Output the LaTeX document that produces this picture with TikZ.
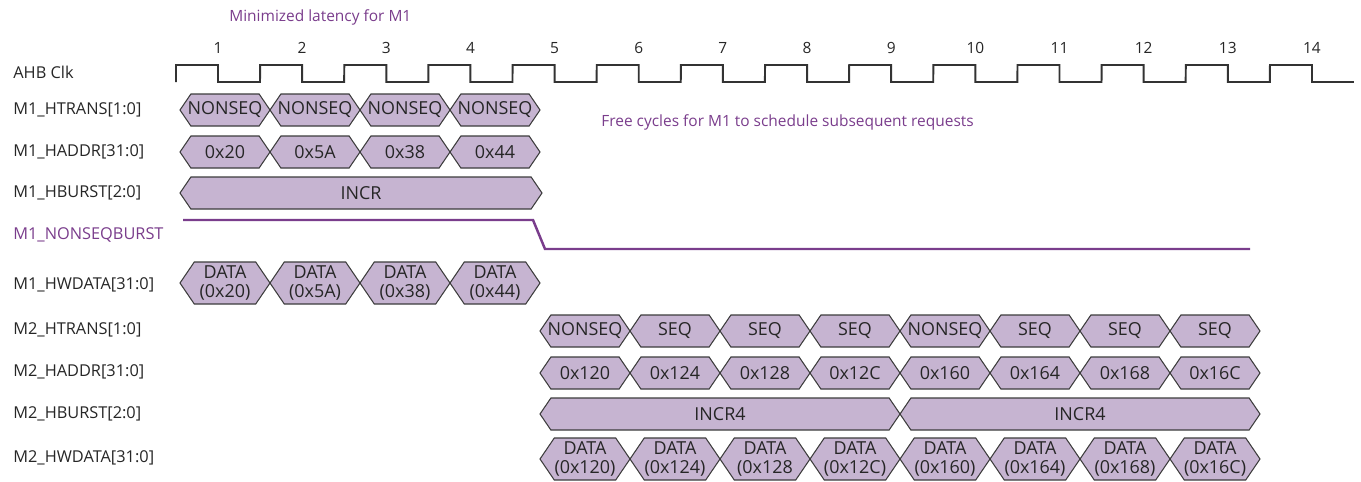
\documentclass[tikz,border=0pt]{standalone}
\usepackage{fontspec}
\setmainfont{Open Sans}
\definecolor{segfill}{HTML}{C6B4D1}
\definecolor{segedge}{HTML}{3C3C3C}
\definecolor{mpurple}{HTML}{7A3D8C}
\usetikzlibrary{calc}

% one bus value: name, left tip, right tip, y, half height, text
\newcommand{\seg}[6]{%
  \draw[segline] (#2,#4) -- ({#2+0.68*#5},{#4-#5}) -- ({#3-0.68*#5},{#4-#5})
    -- (#3,#4) -- ({#3-0.68*#5},{#4+#5}) -- ({#2+0.68*#5},{#4+#5}) -- cycle;
  \node[segtext] (#1) at ({(#2+#3)/2},#4) {#6};}

\begin{document}
\begin{tikzpicture}[x=0.02cm, y=-0.02cm,
    every node/.style={font=\fontsize{8.8}{10.6}\selectfont}]
  \tikzset{
    sig/.style={anchor=west, text=black!85, inner sep=0pt,
                font=\fontsize{9.3}{11}\selectfont},
    note/.style={anchor=west, text=mpurple, inner sep=0pt},
    cnum/.style={text=black!85, inner sep=0pt},
    segline/.style={draw=segedge, fill=segfill, line width=0.6pt},
    segtext/.style={inner sep=0pt, align=center, text=black!85,
                    font=\fontsize{10.2}{10.8}\selectfont},
    clk/.style={draw=black!80, line width=1.1pt},
    flag/.style={draw=mpurple, line width=1.4pt}
  }
  \useasboundingbox (0,0) rectangle (1361,481);

  % signal names
  \node[sig] (lclk) at (13,72) {AHB Clk};
  \node[sig] (l1) at (13,110) {M1\_HTRANS[1:0]};
  \node[sig] (l2) at (13,152) {M1\_HADDR[31:0]};
  \node[sig] (l3) at (13,193) {M1\_HBURST[2:0]};
  \node[sig, text=mpurple] (l4) at (13,235) {M1\_NONSEQBURST};
  \node[sig] (l5) at (13,285) {M1\_HWDATA[31:0]};
  \node[sig] (l6) at (13,330) {M2\_HTRANS[1:0]};
  \node[sig] (l7) at (13,372) {M2\_HADDR[31:0]};
  \node[sig] (l8) at (13,414) {M2\_HBURST[2:0]};
  \node[sig] (l9) at (13,458) {M2\_HWDATA[31:0]};

  \node[note] (lat) at (229,17) {Minimized latency for M1};
  \node[note] (free) at (601,122) {Free cycles for M1 to schedule subsequent requests};

  % clock
  \draw[clk] (176,82) \foreach \k in {0,...,13}{
      -- ({176+84.15*\k},65) -- ({218+84.15*\k},65)
      -- ({218+84.15*\k},82) -- ({260+84.15*\k},82)};
  \foreach \k in {1,...,14}
    \node[cnum] (n\k) at ({218+84.15*(\k-1)},48) {\k};

  % master 1
  \seg{t1}{180}{270}{110}{16}{NONSEQ}
  \seg{t2}{270}{360}{110}{16}{NONSEQ}
  \seg{t3}{360}{450}{110}{16}{NONSEQ}
  \seg{t4}{450}{540}{110}{16}{NONSEQ}
  \seg{a1}{180}{270}{152}{16}{0x20}
  \seg{a2}{270}{360}{152}{16}{0x5A}
  \seg{a3}{360}{450}{152}{16}{0x38}
  \seg{a4}{450}{540}{152}{16}{0x44}
  \seg{b1}{180}{542}{193}{16}{INCR}
  \draw[flag] (183,220) -- (533,220) -- (545,249) -- (1250,249);
  \seg{d1}{180}{270}{283}{21}{DATA\\(0x20)}
  \seg{d2}{270}{360}{283}{21}{DATA\\(0x5A)}
  \seg{d3}{360}{450}{283}{21}{DATA\\(0x38)}
  \seg{d4}{450}{540}{283}{21}{DATA\\(0x44)}

  % master 2
  \seg{u1}{540}{630}{331}{16}{NONSEQ}
  \seg{u2}{630}{720}{331}{16}{SEQ}
  \seg{u3}{720}{810}{331}{16}{SEQ}
  \seg{u4}{810}{900}{331}{16}{SEQ}
  \seg{u5}{900}{990}{331}{16}{NONSEQ}
  \seg{u6}{990}{1080}{331}{16}{SEQ}
  \seg{u7}{1080}{1170}{331}{16}{SEQ}
  \seg{u8}{1170}{1260}{331}{16}{SEQ}
  \seg{c1}{540}{630}{373}{16}{0x120}
  \seg{c2}{630}{720}{373}{16}{0x124}
  \seg{c3}{720}{810}{373}{16}{0x128}
  \seg{c4}{810}{900}{373}{16}{0x12C}
  \seg{c5}{900}{990}{373}{16}{0x160}
  \seg{c6}{990}{1080}{373}{16}{0x164}
  \seg{c7}{1080}{1170}{373}{16}{0x168}
  \seg{c8}{1170}{1260}{373}{16}{0x16C}
  \seg{r1}{540}{900}{414}{16}{INCR4}
  \seg{r2}{900}{1260}{414}{16}{INCR4}
  \seg{w1}{540}{630}{459}{21}{DATA\\(0x120)}
  \seg{w2}{630}{720}{459}{21}{DATA\\(0x124)}
  \seg{w3}{720}{810}{459}{21}{DATA\\(0x128}
  \seg{w4}{810}{900}{459}{21}{DATA\\(0x12C)}
  \seg{w5}{900}{990}{459}{21}{DATA\\(0x160)}
  \seg{w6}{990}{1080}{459}{21}{DATA\\(0x164)}
  \seg{w7}{1080}{1170}{459}{21}{DATA\\(0x168)}
  \seg{w8}{1170}{1260}{459}{21}{DATA\\(0x16C)}
\end{tikzpicture}
\end{document}
